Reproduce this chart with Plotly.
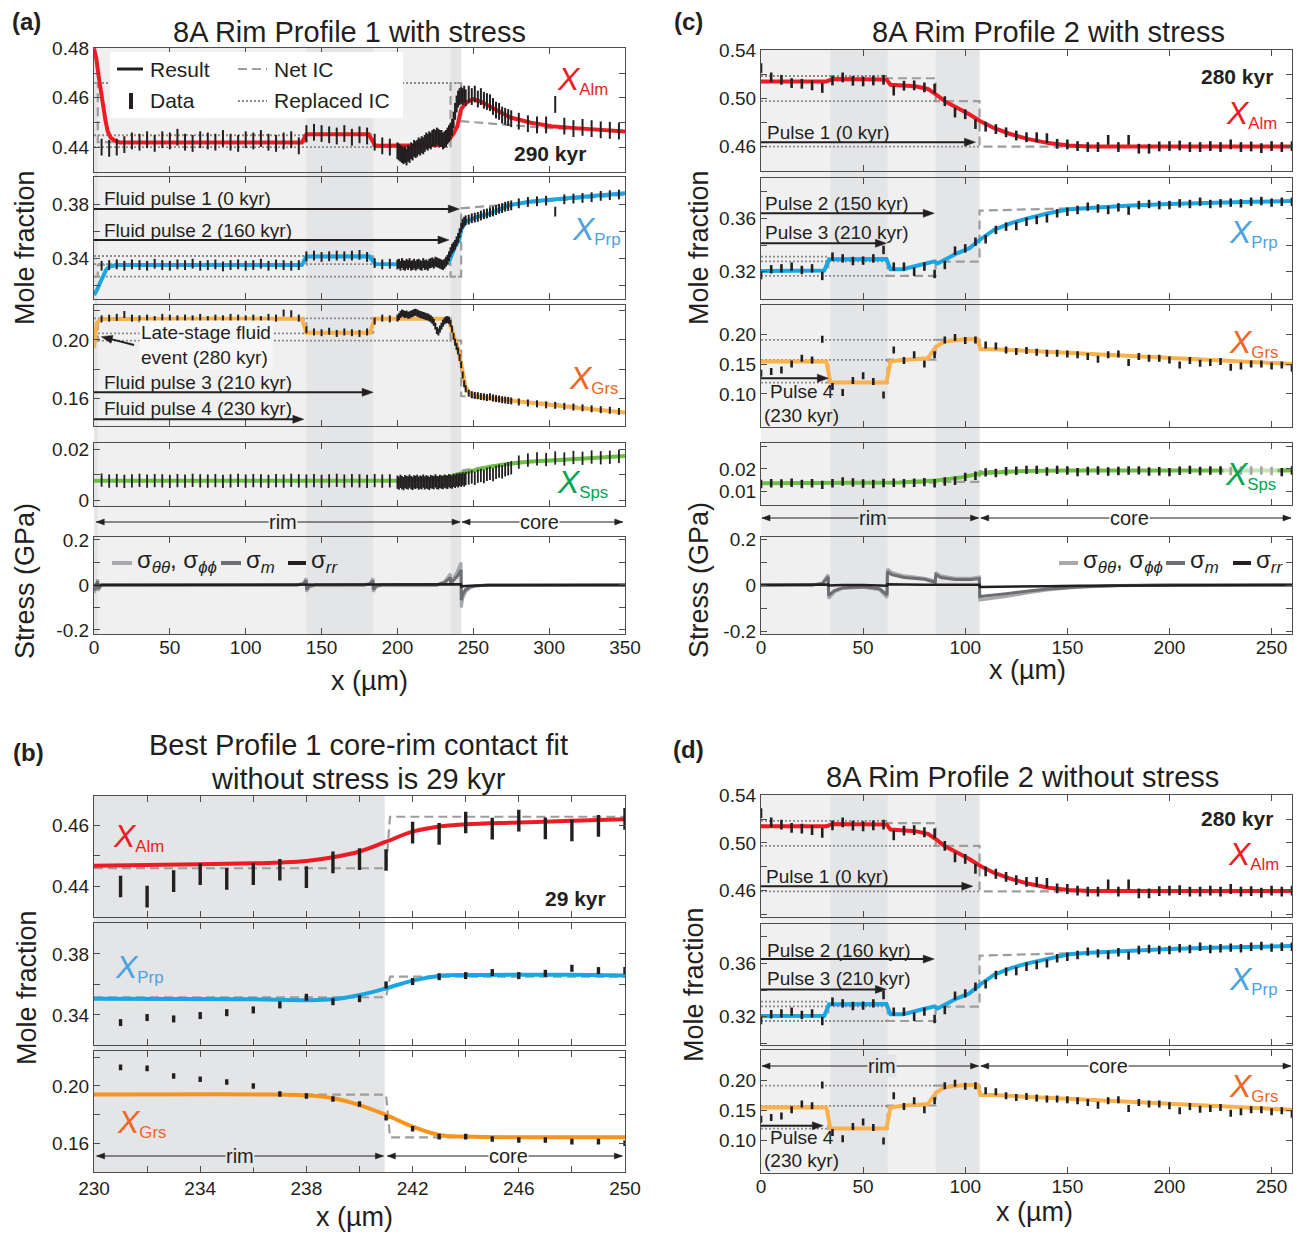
import math
import plotly.graph_objects as go

W, H = 1301, 1234
OFF = 8  # page body margin in the browser
FONT = 'Liberation Sans, Arial, Helvetica, sans-serif'
INK = '#231f20'
RED = '#ed1c24'
BLUE = '#1ba6e3'
BLUE_T = '#4ca3dd'
ORANGE = '#f9b24e'
ORANGE_B = '#f7941d'
ORANGE_T = '#f26522'
GREEN = '#6dbe45'
GREEN_T = '#00a651'
NET = '#9d9d9d'
REP = '#8c8c8c'
LIGHT = '#f0f0f0'
DARK = '#e4e5e7'
S_TT = '#a7a9ac'
S_M = '#6d6e71'
S_RR = '#231f20'

# ======================= Panel (a): 8A Rim Profile 1 with stress =======================
a_x_sparse = list(range(5, 200, 5))
a_x_dense = list(range(200, 246))
a_x_mid = list(range(247, 276, 2))
a_x_core = list(range(280, 350, 6))
a_data_x = a_x_sparse + a_x_dense + a_x_mid + a_x_core

a_alm_data = ([0.4400, 0.4395, 0.4400, 0.4410, 0.4425, 0.4420, 0.4430, 0.4415, 0.4430, 0.4425,
               0.4440, 0.4420, 0.4415, 0.4430, 0.4425, 0.4420, 0.4435, 0.4420, 0.4415, 0.4430,
               0.4425, 0.4435, 0.4420, 0.4415, 0.4425, 0.4430, 0.4405, 0.4455, 0.4460, 0.4455,
               0.4450, 0.4445, 0.4455, 0.4440, 0.4450, 0.4445, 0.4420, 0.4405, 0.4400]
              + [0.4385, 0.4380, 0.4375, 0.4370, 0.4365, 0.4370, 0.4360, 0.4375, 0.4370, 0.4385,
                 0.4380, 0.4395, 0.4390, 0.4395, 0.4405, 0.4400, 0.4410, 0.4405, 0.4415, 0.4425,
                 0.4420, 0.4430, 0.4425, 0.4435, 0.4440, 0.4435, 0.4445, 0.4440, 0.4435, 0.4435,
                 0.4425, 0.4430, 0.4435, 0.4445, 0.4455, 0.4465, 0.4480, 0.4510, 0.4545, 0.4575,
                 0.4595, 0.4605, 0.4610, 0.4605, 0.4615, 0.4600]
              + [0.4615, 0.4605, 0.4615, 0.4595, 0.4605, 0.4590, 0.4585, 0.4580, 0.4565, 0.4550,
                 0.4545, 0.4530, 0.4525, 0.4520, 0.4515]
              + [0.4505, 0.4495, 0.4490, 0.4490, 0.4573, 0.4485, 0.4475, 0.4480, 0.4475, 0.4470,
                 0.4468, 0.4465])
a_prp_data = ([0.3345, 0.3350, 0.3355, 0.3345, 0.3355, 0.3350, 0.3345, 0.3360, 0.3350, 0.3345,
               0.3355, 0.3350, 0.3360, 0.3345, 0.3350, 0.3355, 0.3340, 0.3350, 0.3355, 0.3345,
               0.3350, 0.3360, 0.3345, 0.3355, 0.3350, 0.3345, 0.3350, 0.3415, 0.3420, 0.3410,
               0.3415, 0.3420, 0.3415, 0.3420, 0.3425, 0.3410, 0.3365, 0.3355, 0.3360]
              + [0.3355, 0.3360, 0.3345, 0.3365, 0.3350, 0.3345, 0.3360, 0.3350, 0.3365, 0.3345,
                 0.3350, 0.3360, 0.3345, 0.3355, 0.3360, 0.3350, 0.3345, 0.3365, 0.3350, 0.3355,
                 0.3345, 0.3360, 0.3365, 0.3370, 0.3360, 0.3375, 0.3370, 0.3365, 0.3360, 0.3355,
                 0.3350, 0.3360, 0.3375, 0.3390, 0.3415, 0.3445, 0.3470, 0.3485, 0.3500, 0.3525,
                 0.3550, 0.3585, 0.3625, 0.3655, 0.3670, 0.3680]
              + [0.3685, 0.3695, 0.3700, 0.3705, 0.3715, 0.3725, 0.3730, 0.3740, 0.3745, 0.3755,
                 0.3765, 0.3770, 0.3780, 0.3785, 0.3790]
              + [0.3805, 0.3815, 0.3820, 0.3825, 0.3744, 0.3835, 0.3840, 0.3845, 0.3850, 0.3860,
                 0.3865, 0.3870])
a_grs_data = ([0.2145, 0.2150, 0.2155, 0.2175, 0.2150, 0.2145, 0.2150, 0.2140, 0.2155, 0.2150,
               0.2145, 0.2150, 0.2145, 0.2155, 0.2140, 0.2150, 0.2145, 0.2155, 0.2150, 0.2145,
               0.2150, 0.2140, 0.2155, 0.2150, 0.2185, 0.2180, 0.2150, 0.2070, 0.2055, 0.2050,
               0.2060, 0.2045, 0.2055, 0.2050, 0.2045, 0.2055, 0.2130, 0.2150, 0.2145]
              + [0.2150, 0.2160, 0.2175, 0.2185, 0.2180, 0.2175, 0.2178, 0.2170, 0.2172, 0.2178,
                 0.2182, 0.2188, 0.2190, 0.2185, 0.2180, 0.2175, 0.2172, 0.2168, 0.2165, 0.2160,
                 0.2158, 0.2152, 0.2145, 0.2135, 0.2120, 0.2095, 0.2065, 0.2055, 0.2075, 0.2095,
                 0.2115, 0.2130, 0.2138, 0.2140, 0.2135, 0.2115, 0.2075, 0.2025, 0.1985, 0.1955,
                 0.1925, 0.1880, 0.1830, 0.1760, 0.1700, 0.1665]
              + [0.1635, 0.1625, 0.1620, 0.1618, 0.1612, 0.1610, 0.1605, 0.1610, 0.1602, 0.1598,
                 0.1595, 0.1590, 0.1588, 0.1585, 0.1582]
              + [0.1575, 0.1568, 0.1562, 0.1555, 0.1552, 0.1545, 0.1540, 0.1535, 0.1528, 0.1522,
                 0.1518, 0.1510])
a_sps_data = ([0.0080, 0.0076, 0.0078, 0.0075, 0.0077, 0.0079, 0.0076, 0.0078, 0.0077, 0.0075,
               0.0078, 0.0076, 0.0079, 0.0077, 0.0076, 0.0078, 0.0075, 0.0077, 0.0079, 0.0076,
               0.0078, 0.0077, 0.0075, 0.0078, 0.0076, 0.0079, 0.0077, 0.0076, 0.0078, 0.0075,
               0.0077, 0.0079, 0.0076, 0.0078, 0.0077, 0.0075, 0.0078, 0.0076, 0.0077]
              + [0.0072, 0.0068, 0.0075, 0.0070, 0.0066, 0.0074, 0.0071, 0.0069, 0.0076, 0.0070,
                 0.0067, 0.0073, 0.0071, 0.0075, 0.0068, 0.0072, 0.0070, 0.0076, 0.0069, 0.0073,
                 0.0071, 0.0067, 0.0074, 0.0072, 0.0070, 0.0077, 0.0071, 0.0069, 0.0075, 0.0072,
                 0.0070, 0.0076, 0.0073, 0.0071, 0.0078, 0.0074, 0.0072, 0.0079, 0.0075, 0.0081,
                 0.0077, 0.0083, 0.0079, 0.0085, 0.0080, 0.0086]
              + [0.0088, 0.0092, 0.0087, 0.0095, 0.0098, 0.0094, 0.0102, 0.0106, 0.0101, 0.0110,
                 0.0115, 0.0112, 0.0120, 0.0124, 0.0128]
              + [0.0150, 0.0158, 0.0163, 0.0160, 0.0166, 0.0162, 0.0168, 0.0165, 0.0170, 0.0167,
                 0.0169, 0.0172])

a_alm_cx = [0, 1.5, 3, 4.5, 6, 7.5, 9, 11, 14, 17, 137, 140, 181, 185.5, 230, 234, 237, 239.5, 242,
            244.5, 247.5, 250, 255, 261, 274.5, 288, 301.5, 315, 328, 350]
a_alm_cy = [0.480, 0.476, 0.469, 0.462, 0.456, 0.451, 0.4465, 0.4438, 0.4425, 0.4419, 0.4419, 0.4452,
            0.4452, 0.4405, 0.4408, 0.4430, 0.4455, 0.4485, 0.4553, 0.4575, 0.4588, 0.4595, 0.4585,
            0.4564, 0.4520, 0.4499, 0.4485, 0.4478, 0.4473, 0.4463]
a_prp_cx = [0, 2, 4, 6.2, 8, 10, 15.6, 137, 140, 181.4, 185.5, 230, 234, 236, 238, 240.7, 242,
            244.8, 253, 261, 274.5, 288, 301.4, 315, 328, 350]
a_prp_cy = [0.3130, 0.3167, 0.3220, 0.3265, 0.3315, 0.3339, 0.3350, 0.3350, 0.3413, 0.3415, 0.3358,
            0.3355, 0.3375, 0.3430, 0.3486, 0.3535, 0.3609, 0.3670, 0.3707, 0.3731, 0.3793, 0.3818,
            0.3834, 0.3847, 0.3859, 0.3879]
a_grs_cx = [0, 1.6, 5, 137, 140, 182, 185, 230, 234, 236.7, 239.4, 242, 244.8, 247.5, 253, 261,
            274.5, 288, 315, 350]
a_grs_cy = [0.1943, 0.2114, 0.2144, 0.2146, 0.2050, 0.2050, 0.2146, 0.2146, 0.2133, 0.2046, 0.1954,
            0.1840, 0.1680, 0.1634, 0.1611, 0.1600, 0.1584, 0.1566, 0.1538, 0.1502]
a_sps_cx = [0, 200, 220, 234, 242, 261, 275, 288, 315, 350]
a_sps_cy = [0.0077, 0.0077, 0.0081, 0.0093, 0.0106, 0.0132, 0.0145, 0.0152, 0.0161, 0.0174]

# net initial condition (step at pulse boundaries, then core profile)
a_net_x = [0, 2.5, 2.5, 140, 140, 184, 184, 235, 235, 242, 242, 275, 300, 350]
a_alm_net = [0.466, 0.466, 0.442, 0.442, 0.4452, 0.4452, 0.4405, 0.4405, 0.466, 0.466, 0.4505,
             0.4488, 0.4477, 0.4464]
a_prp_net = [0.3265, 0.3265, 0.3352, 0.3352, 0.3415, 0.3415, 0.3357, 0.3357, 0.3265, 0.3265, 0.3768,
             0.3800, 0.3822, 0.3868]
a_grs_net = [0.1995, 0.1995, 0.2146, 0.2146, 0.2050, 0.2050, 0.2146, 0.2146, 0.1995, 0.1995, 0.1615,
             0.1584, 0.1566, 0.1502]
a_sps_net = [0.0077, 0.0077, 0.0077, 0.0077, 0.0077, 0.0077, 0.0077, 0.0077, 0.0077, 0.0077, 0.0117,
             0.0146, 0.0153, 0.0174]
# replaced initial conditions (x start, x end, level)
a_alm_rep = [(0, 242, 0.466), (0, 140, 0.4448), (0, 235, 0.4400)]
a_prp_rep = [(0, 140, 0.3417), (0, 242, 0.3265), (0, 184, 0.3357)]
a_grs_rep = [(0, 140, 0.2045), (0, 242, 0.1995), (0, 184, 0.2148)]

a_s_x = [0, 1.2, 2.4, 2.6, 5, 134, 138, 139.9, 140.1, 142, 146, 178, 182, 183.9, 184.1, 186, 190,
         226, 231, 234.9, 235.1, 237, 239.5, 241.9, 242.1, 243, 245, 248, 252, 260, 350]
a_s_tt = [-0.035, -0.02, 0.025, -0.025, 0, 0, 0.008, 0.03, -0.03, -0.008, 0, 0, 0.008, 0.03, -0.03,
          -0.008, 0, 0, 0.015, 0.05, 0.01, 0.03, 0.06, 0.1, -0.1, -0.06, -0.03, -0.012, -0.004, 0, 0]
a_s_m = [-0.023, -0.013, 0.017, -0.017, 0, 0, 0.005, 0.02, -0.02, -0.005, 0, 0, 0.005, 0.02, -0.02,
         -0.005, 0, 0, 0.01, 0.033, 0.007, 0.02, 0.04, 0.067, -0.067, -0.04, -0.02, -0.008, -0.003, 0, 0]
a_s_rr = [0, 0, 0, 0, 0, 0, 0, 0, 0, 0, 0, 0, 0, 0, 0, 0, 0, 0, 0, 0, 0, 0, 0, 0.003, -0.006, -0.005,
          -0.004, -0.003, -0.002, -0.001, 0]
a_light = [(0, 242)]
a_dark = [(0, 2.5), (140, 184), (235, 242)]

# ======================= Panel (c)/(d): 8A Rim Profile 2 =======================
c_data_x = list(range(0, 261, 5))
c_alm_data = [0.5250, 0.5173, 0.5153, 0.5126, 0.5120, 0.5107, 0.5085, 0.5148, 0.5173, 0.5145, 0.5140,
              0.5148, 0.5153, 0.5063, 0.5104, 0.5107, 0.5090, 0.5080, 0.4975, 0.4880, 0.4866, 0.4784,
              0.4762, 0.4742, 0.4715, 0.4688, 0.4674, 0.4674, 0.4666, 0.4619, 0.4614, 0.4600, 0.4592,
              0.4592, 0.4652, 0.4592, 0.4652, 0.4578, 0.4578, 0.4597, 0.4600, 0.4605, 0.4592, 0.4592,
              0.4600, 0.4592, 0.4614, 0.4592, 0.4597, 0.4583, 0.4600, 0.4592, 0.4600]
c_prp_data = [0.3175, 0.3218, 0.3225, 0.3238, 0.3213, 0.3225, 0.3168, 0.3313, 0.3300, 0.3280, 0.3283,
              0.3300, 0.3363, 0.3238, 0.3238, 0.3200, 0.3238, 0.3183, 0.3250, 0.3358, 0.3375, 0.3425,
              0.3443, 0.3513, 0.3538, 0.3543, 0.3575, 0.3588, 0.3600, 0.3638, 0.3650, 0.3663, 0.3688,
              0.3675, 0.3663, 0.3683, 0.3658, 0.3700, 0.3708, 0.3700, 0.3700, 0.3713, 0.3708, 0.3725,
              0.3708, 0.3713, 0.3718, 0.3713, 0.3725, 0.3730, 0.3718, 0.3725, 0.3725]
c_grs_data = [0.1346, 0.1374, 0.1402, 0.1503, 0.1598, 0.1570, 0.1916, 0.1123, 0.1022, 0.1223, 0.1302,
              0.1207, 0.0983, 0.1737, 0.1559, 0.1654, 0.1503, 0.1654, 0.1905, 0.1944, 0.1894, 0.1905,
              0.1821, 0.1804, 0.1737, 0.1709, 0.1726, 0.1698, 0.1682, 0.1682, 0.1670, 0.1654, 0.1626,
              0.1581, 0.1654, 0.1670, 0.1525, 0.1626, 0.1598, 0.1598, 0.1570, 0.1486, 0.1559, 0.1514,
              0.1525, 0.1542, 0.1447, 0.1469, 0.1503, 0.1503, 0.1469, 0.1486, 0.1430]
c_sps_data = [0.0134, 0.0137, 0.0136, 0.0139, 0.0134, 0.0137, 0.0130, 0.0137, 0.0145, 0.0140, 0.0136,
              0.0134, 0.0138, 0.0139, 0.0137, 0.0139, 0.0142, 0.0137, 0.0145, 0.0148, 0.0165, 0.0170,
              0.0185, 0.0182, 0.0190, 0.0192, 0.0196, 0.0196, 0.0189, 0.0196, 0.0193, 0.0186, 0.0191,
              0.0193, 0.0189, 0.0191, 0.0193, 0.0194, 0.0189, 0.0190, 0.0186, 0.0192, 0.0196, 0.0191,
              0.0193, 0.0193, 0.0191, 0.0193, 0.0193, 0.0193, 0.0191, 0.0186, 0.0193]

c_alm_cx = [0, 32, 34, 35, 61.4, 63.4, 75.6, 81.7, 85.8, 89.9, 96, 102, 107, 114, 122, 130.5, 140.7,
            150.8, 161, 260]
c_alm_cy = [0.5140, 0.5140, 0.5152, 0.5159, 0.5155, 0.5112, 0.5099, 0.5077, 0.5030, 0.4975, 0.4920,
            0.4866, 0.4811, 0.4751, 0.4701, 0.4660, 0.4625, 0.4605, 0.4597, 0.4597]
c_prp_cx = [0, 31, 33.3, 61.4, 63.4, 69.5, 77.7, 85, 86.5, 88, 96, 102, 107, 114, 122, 130.5, 140.7,
            150.8, 161, 179, 199.6, 220, 240.3, 260]
c_prp_cy = [0.3205, 0.3208, 0.3293, 0.3295, 0.3218, 0.3218, 0.3250, 0.3278, 0.3262, 0.3275, 0.3338,
            0.3375, 0.3438, 0.3513, 0.3563, 0.3600, 0.3638, 0.3668, 0.3680, 0.3695, 0.3708, 0.3718,
            0.3725, 0.3730]
c_grs_cx = [0, 32, 34, 61.4, 63.4, 69.5, 81.7, 85.8, 89.9, 100, 106, 107.5, 114, 128.5, 148.8, 169,
            189.5, 209.8, 230, 260]
c_grs_cy = [0.1542, 0.1542, 0.1190, 0.1190, 0.1542, 0.1570, 0.1598, 0.1793, 0.1877, 0.1916, 0.1916,
            0.1749, 0.1749, 0.1726, 0.1693, 0.1659, 0.1626, 0.1587, 0.1553, 0.1503]
c_sps_cx = [0, 67.5, 85.8, 98, 108, 118, 128.5, 148.8, 260]
c_sps_cy = [0.0137, 0.0140, 0.0149, 0.0163, 0.0181, 0.0188, 0.0191, 0.0193, 0.0193]

c_net_x = [0, 33, 33, 62, 62, 85.5, 85.5, 107, 107, 150, 200, 260]
c_alm_net = [0.5140, 0.5140, 0.5159, 0.5159, 0.5166, 0.5166, 0.4975, 0.4975, 0.4595, 0.4595, 0.4595,
             0.4595]
c_prp_net = [0.3205, 0.3205, 0.3295, 0.3295, 0.3168, 0.3168, 0.3275, 0.3275, 0.3658, 0.3675, 0.3705,
             0.3730]
c_grs_net = [0.1542, 0.1542, 0.1190, 0.1190, 0.1575, 0.1575, 0.1905, 0.1905, 0.1749, 0.1693, 0.1610,
             0.1503]
c_sps_net = [0.0137, 0.0137, 0.0137, 0.0137, 0.0140, 0.0140, 0.0143, 0.0143, 0.0191, 0.0193, 0.0193,
             0.0193]
c_alm_rep = [(0, 62, 0.5185), (0, 85.5, 0.4975), (0, 107, 0.4595)]
c_prp_rep = [(0, 33, 0.3313), (0, 62, 0.3278), (0, 62, 0.3168)]
c_grs_rep = [(0, 85.5, 0.1905), (0, 62, 0.1570), (0, 33, 0.1190)]

c_s_x = [0, 25, 30, 32.9, 33.1, 36, 40, 50, 58, 61.7, 61.9, 64, 70, 80, 85.3, 85.7, 88, 95, 103,
         106.9, 107.1, 112, 120, 130, 140, 155, 175, 200, 260]
c_s_tt = [0, 0, 0.008, 0.045, -0.058, -0.03, -0.015, -0.01, -0.02, -0.055, 0.07, 0.055, 0.04, 0.03,
          0.018, 0.055, 0.04, 0.03, 0.03, 0.035, -0.065, -0.06, -0.05, -0.035, -0.022, -0.01, -0.003,
          0, 0]
c_s_m = [0, 0, 0.006, 0.035, -0.045, -0.024, -0.012, -0.008, -0.016, -0.043, 0.058, 0.045, 0.033,
         0.025, 0.012, 0.045, 0.033, 0.024, 0.024, 0.028, -0.05, -0.046, -0.038, -0.027, -0.017,
         -0.008, -0.002, 0, 0]
c_s_rr = [0, 0, 0, 0.002, -0.002, 0, 0, 0, 0, -0.003, 0.003, 0.002, 0.002, 0.001, 0, 0.002, 0.001,
          0.001, 0.001, 0.001, -0.008, -0.008, -0.007, -0.006, -0.005, -0.003, -0.002, -0.001, 0]
c_light = [(0, 107)]
c_dark = [(34, 62), (85.5, 107)]

# ======================= Panel (b): core-rim contact, no stress =======================
b_data_x = list(range(231, 251))
b_alm_data = [0.4399, 0.4366, 0.4417, 0.4440, 0.4424, 0.4440, 0.4454, 0.4430, 0.4478, 0.4489,
              0.4486, 0.4576, 0.4572, 0.4609, 0.4589, 0.4615, 0.4590, 0.4583, 0.4598, 0.4621]
b_prp_data = [0.3350, 0.3383, 0.3374, 0.3396, 0.3415, 0.3433, 0.3466, 0.3516, 0.3487, 0.3507,
              0.3597, 0.3619, 0.3651, 0.3658, 0.3678, 0.3658, 0.3673, 0.3706, 0.3691, 0.3691]
b_grs_data = [0.2130, 0.2123, 0.2070, 0.2047, 0.2028, 0.2000, 0.1944, 0.1930, 0.1909, 0.1874,
              0.1779, 0.1702, 0.1647, 0.1647, 0.1630, 0.1623, 0.1623, 0.1612, 0.1612, 0.1600]
b_alm_cx = [230, 234, 236, 237, 238, 239, 240, 241, 242, 243, 244, 246, 248, 250]
b_alm_cy = [0.4467, 0.4472, 0.4475, 0.4478, 0.4483, 0.4495, 0.4514, 0.4546, 0.4579, 0.4596, 0.4603,
            0.4609, 0.4615, 0.4620]
b_prp_cx = [230, 236, 238, 239, 240, 241, 242, 243, 244, 246, 248, 250]
b_prp_cy = [0.3507, 0.3503, 0.3497, 0.3503, 0.3531, 0.3575, 0.3625, 0.3656, 0.3662, 0.3664, 0.3663,
            0.3658]
b_grs_cx = [230, 237, 238, 239, 240, 241, 242, 243, 244, 246, 250]
b_grs_cy = [0.1940, 0.1940, 0.1935, 0.1914, 0.1867, 0.1798, 0.1716, 0.1658, 0.1647, 0.1642, 0.1642]
b_net_x = [230, 241, 241.15, 250]
b_alm_net = [0.4459, 0.4459, 0.4628, 0.4628]
b_prp_net = [0.3516, 0.3516, 0.3651, 0.3651]
b_grs_net = [0.1940, 0.1940, 0.1642, 0.1642]
b_dark = [(230, 240.95)]

# ======================= ticks: (labelled values, labels, unlabelled minor values) =======================
a_xt = ([0, 50, 100, 150, 200, 250, 300, 350], ['0', '50', '100', '150', '200', '250', '300', '350'], [])
c_xt = ([0, 50, 100, 150, 200, 250], ['0', '50', '100', '150', '200', '250'], [])
b_xt = ([230, 234, 238, 242, 246, 250], ['230', '234', '238', '242', '246', '250'], [232, 236, 240, 244, 248])
alm_a_ticks = ([0.44, 0.46, 0.48], ['0.44', '0.46', '0.48'], [0.45, 0.47])
prp_a_ticks = ([0.34, 0.38], ['0.34', '0.38'], [0.32, 0.36])
grs_a_ticks = ([0.16, 0.20], ['0.16', '0.20'], [0.18, 0.22])
sps_a_ticks = ([0, 0.02], ['0', '0.02'], [0.01])
stress_ticks = ([-0.2, 0, 0.2], ['-0.2', '0', '0.2'], [-0.1, 0.1])
alm_c_ticks = ([0.46, 0.50, 0.54], ['0.46', '0.50', '0.54'], [0.44, 0.48, 0.52])
prp_c_ticks = ([0.32, 0.36], ['0.32', '0.36'], [0.30, 0.34, 0.38])
grs_c_ticks = ([0.10, 0.15, 0.20], ['0.10', '0.15', '0.20'], [])
sps_c_ticks = ([0.01, 0.02], ['0.01', '0.02'], [0.03])
alm_b_ticks = ([0.44, 0.46], ['0.44', '0.46'], [0.45])
prp_b_ticks = ([0.34, 0.38], ['0.34', '0.38'], [0.36])
grs_b_ticks = ([0.16, 0.20], ['0.16', '0.20'], [0.18, 0.22])

# ======================= figure construction =======================
fig = go.Figure()
axes_layout = {}
shapes = []
anns = []
GEO = {}


def px(x):
    return (x - OFF) / W


def py(y):
    return 1 - (y - OFF) / H


def ids(n):
    return ('x' if n == 1 else 'x%d' % n), ('y' if n == 1 else 'y%d' % n)


TICKC = '#4d4d4d'
AXSTYLE = dict(showline=True, linecolor=TICKC, linewidth=1.2, mirror='ticks', ticks='inside',
               ticklen=6, tickwidth=1, tickcolor=TICKC, showgrid=False, zeroline=False,
               fixedrange=True, automargin=False, tickfont=dict(size=19, color=INK, family=FONT))


def tick_dict(spec):
    d = dict(tickmode='array', tickvals=spec[0], ticktext=spec[1])
    if spec[2]:
        d['minor'] = dict(tickmode='array', tickvals=spec[2], ticks='inside', ticklen=6, tickwidth=1,
                          tickcolor=TICKC, showgrid=False)
    return d


def make_axes(n, xl, xr, yt, yb, xrng, yrng, xspec, yspec, showx, standoff=-4):
    xid, yid = ids(n)
    GEO[n] = (xl, xr, yt, yb, xrng, yrng)
    xa = dict(AXSTYLE, domain=[px(xl), px(xr)], range=xrng, anchor=yid, showticklabels=showx,
              ticklabelstandoff=standoff, **tick_dict(xspec))
    ya = dict(AXSTYLE, domain=[py(yb), py(yt)], range=yrng, anchor=xid, **tick_dict(yspec))
    axes_layout['xaxis' if n == 1 else 'xaxis%d' % n] = xa
    axes_layout['yaxis' if n == 1 else 'yaxis%d' % n] = ya


def to_px(n, x, y):
    xl, xr, yt, yb, xrng, yrng = GEO[n]
    return (xl + (x - xrng[0]) / (xrng[1] - xrng[0]) * (xr - xl),
            yb - (y - yrng[0]) / (yrng[1] - yrng[0]) * (yb - yt))


def from_px(n, X, Y):
    xl, xr, yt, yb, xrng, yrng = GEO[n]
    return (xrng[0] + (X - xl) / (xr - xl) * (xrng[1] - xrng[0]),
            yrng[0] + (yb - Y) / (yb - yt) * (yrng[1] - yrng[0]))


def tr(n, x, y, **kw):
    xid, yid = ids(n)
    fig.add_trace(go.Scatter(x=x, y=y, xaxis=xid, yaxis=yid, hoverinfo='skip', **kw))


def curve(n, x, y, color, width=4, smooth=False):
    tr(n, x, y, mode='lines', line=dict(color=color, width=width, shape='spline' if smooth else 'linear'))


def net(n, x, y):
    tr(n, x, y, mode='lines', line=dict(color=NET, width=2.2, dash='9px,5px'))


def replaced(n, segs):
    xs, ys = [], []
    for x0, x1, v in segs:
        xs += [x0, x1, None]
        ys += [v, v, None]
    tr(n, xs, ys, mode='lines', line=dict(color=REP, width=1.8, dash='2px,2px'))


def data(n, x, y, size, width=2.2):
    m = min(len(x), len(y))
    tr(n, x[:m], y[:m], mode='markers',
       marker=dict(symbol='line-ns', size=size, color=INK, line=dict(color=INK, width=width)))


def band(n, x0, x1, color, yt, yb):
    xid, _ = ids(n)
    shapes.append(dict(type='rect', xref=xid, yref='paper', x0=x0, x1=x1, y0=py(yb), y1=py(yt),
                       fillcolor=color, line=dict(width=0), layer='below'))


def txt(n, x, y, s, size=19, color=INK, xanchor='left', bg=None, align='left'):
    xid, yid = ids(n)
    d = dict(xref=xid, yref=yid, x=x, y=y, text=s, showarrow=False, xanchor=xanchor, yanchor='middle',
             align=align, font=dict(size=size, color=color, family=FONT))
    if bg:
        d['bgcolor'] = bg
    anns.append(d)


def ptxt(x, y, s, size, color=INK, xanchor='center', angle=0):
    anns.append(dict(xref='paper', yref='paper', x=px(x), y=py(y), text=s, showarrow=False,
                     xanchor=xanchor, yanchor='middle', textangle=angle,
                     font=dict(size=size, color=color, family=FONT)))


def head_path(pts):
    return 'M%.6f,%.6f L%.6f,%.6f L%.6f,%.6f Z' % (pts[0] + pts[1] + pts[2])


def arrow(n, x0, y0, x1, y1, width=2, L=11, hw=4):
    """Arrow from tail (x0, y0) to head (x1, y1) in the data coordinates of subplot n."""
    xid, yid = ids(n)
    X0, Y0 = to_px(n, x0, y0)
    X1, Y1 = to_px(n, x1, y1)
    d = math.hypot(X1 - X0, Y1 - Y0)
    ux, uy = (X1 - X0) / d, (Y1 - Y0) / d
    BX, BY = X1 - L * ux, Y1 - L * uy
    bx, by = from_px(n, BX + ux, BY + uy)
    shapes.append(dict(type='line', xref=xid, yref=yid, x0=x0, y0=y0, x1=bx, y1=by,
                       line=dict(color=INK, width=width), layer='above'))
    pts = (from_px(n, X1, Y1), from_px(n, BX - hw * uy, BY + hw * ux), from_px(n, BX + hw * uy, BY - hw * ux))
    shapes.append(dict(type='path', xref=xid, yref=yid, path=head_path(pts), fillcolor=INK,
                       line=dict(color=INK, width=0.5), layer='above'))


def span_arrow(n, x0, x1, ypix, L=8, hw=3):
    """Thin double-headed arrow along x (data of subplot n) at page height ypix."""
    xid, _ = ids(n)
    X0, _ = to_px(n, x0, 0)
    X1, _ = to_px(n, x1, 0)
    shapes.append(dict(type='line', xref=xid, yref='paper', x0=x0, x1=x1, y0=py(ypix), y1=py(ypix),
                       line=dict(color=INK, width=1), layer='above'))
    for tipX, sgn in ((X0, -1), (X1, 1)):
        baseX = tipX - sgn * L
        tip = (from_px(n, tipX, 0)[0], py(ypix))
        p1 = (from_px(n, baseX, 0)[0], py(ypix - hw))
        p2 = (from_px(n, baseX, 0)[0], py(ypix + hw))
        shapes.append(dict(type='path', xref=xid, yref='paper', path=head_path((tip, p1, p2)),
                           fillcolor=INK, line=dict(color=INK, width=0.5), layer='above'))


def comp_label(n, x, y, name, color, bg=None):
    txt(n, x, y, '<span style="font-size:32px"><i>X</i></span><sub>%s</sub>' % name, size=24,
        color=color, xanchor='center', bg=bg)


def rim_core(n, ypix, rim_span, rim_mid, rim_bg, core_span, core_mid):
    xid, _ = ids(n)
    span_arrow(n, rim_span[0], rim_span[1], ypix)
    span_arrow(n, core_span[0], core_span[1], ypix)
    for s, xm, bg in (('rim', rim_mid, rim_bg), ('core', core_mid, 'white')):
        anns.append(dict(xref=xid, yref='paper', x=xm, y=py(ypix), text=s, showarrow=False,
                         xanchor='center', yanchor='middle', bgcolor=bg, borderpad=0,
                         font=dict(size=20, color=INK, family=FONT)))


def pline(x0, y0, x1, y1, color, width, dash=None):
    shapes.append(dict(type='line', xref='paper', yref='paper', x0=px(x0), y0=py(y0), x1=px(x1),
                       y1=py(y1), line=dict(color=color, width=width, dash=dash), layer='above'))


SIG_TT = 'σ<sub><i>θθ</i></sub>, σ<sub><i>ϕϕ</i></sub>'
SIG_M = 'σ<sub><i>m</i></sub>'
SIG_RR = 'σ<sub><i>rr</i></sub>'

# ---------------- Panel (a) ----------------
A_X = (94, 625)
A_ROWS = [(48, 172, [0.4299, 0.4802], alm_a_ticks), (177, 299, [0.310, 0.3999], prp_a_ticks),
          (305, 426, [0.141, 0.224], grs_a_ticks), (443, 506, [-0.0021, 0.02245], sps_a_ticks),
          (537, 634, [-0.2178, 0.2133], stress_ticks)]
for i, (yt, yb, yr, tk) in enumerate(A_ROWS):
    make_axes(1 + i, A_X[0], A_X[1], yt, yb, [0, 350], yr, a_xt, tk, i == 4)
for x0, x1 in a_light:
    band(1, x0, x1, LIGHT, 48, 634)
for x0, x1 in a_dark:
    band(1, x0, x1, DARK, 48, 634)

replaced(1, a_alm_rep); net(1, a_net_x, a_alm_net); curve(1, a_alm_cx, a_alm_cy, RED)
data(1, a_data_x, a_alm_data, 12, 2)
replaced(2, a_prp_rep); net(2, a_net_x, a_prp_net); curve(2, a_prp_cx, a_prp_cy, BLUE)
data(2, a_data_x, a_prp_data, 7, 2)
replaced(3, a_grs_rep); net(3, a_net_x, a_grs_net); curve(3, a_grs_cx, a_grs_cy, ORANGE)
data(3, a_data_x, a_grs_data, 5, 2)
net(4, a_net_x, a_sps_net); curve(4, a_sps_cx, a_sps_cy, GREEN)
data(4, a_data_x, a_sps_data, 9.5, 1.8)
curve(5, a_s_x, a_s_tt, S_TT, 3); curve(5, a_s_x, a_s_m, S_M, 3); curve(5, a_s_x, a_s_rr, S_RR, 2.5)

comp_label(1, 321.7, 0.4671, 'Alm', RED)
comp_label(2, 331, 0.3608, 'Prp', BLUE_T)
comp_label(3, 329, 0.1735, 'Grs', ORANGE_T)
comp_label(4, 322, 0.0069, 'Sps', GREEN_T)
txt(1, 300.6, 0.4376, '<b>290 kyr</b>', size=21, xanchor='center')
txt(2, 5.4, 0.3842, 'Fluid pulse 1 (0 kyr)')
arrow(2, 0, 0.3763, 240.8, 0.3763)
txt(2, 5.4, 0.3608, 'Fluid pulse 2 (160 kyr)')
arrow(2, 0, 0.3535, 234, 0.3535)
txt(3, 29.5, 0.1968, 'Late-stage fluid<br>event (280 kyr)', bg='#f7f7f7')
arrow(3, 26.4, 0.1966, 4.85, 0.2023)
txt(3, 5.4, 0.1707, 'Fluid pulse 3 (210 kyr)')
arrow(3, 0, 0.1641, 184, 0.1641)
txt(3, 5.4, 0.1531, 'Fluid pulse 4 (230 kyr)')
arrow(3, 0, 0.1456, 138.3, 0.1456)
rim_core(5, 522, (1.5, 241.3), 124.8, LIGHT, (242.6, 348.5), 293.4)

# legend of panel (a)
shapes.append(dict(type='rect', xref='paper', yref='paper', x0=px(110), x1=px(403), y0=py(118),
                   y1=py(52), fillcolor='white', line=dict(width=0), layer='above'))
pline(117, 69, 143, 69, INK, 3)
pline(238, 69, 267, 69, NET, 2.2, '9px,5px')
pline(131, 93, 131, 109, INK, 4)
pline(238, 101, 267, 101, REP, 1.8, '2px,2px')
ptxt(148, 69, 'Result', 21, xanchor='left')
ptxt(272, 69, 'Net IC', 21, xanchor='left')
ptxt(148, 101, 'Data', 21, xanchor='left')
ptxt(272, 101, 'Replaced IC', 21, xanchor='left')
# stress legend (a)
pline(112, 563, 132, 563, S_TT, 4)
pline(221, 563, 241, 563, S_M, 4)
pline(288, 563, 306, 563, S_RR, 4)
ptxt(135, 561, SIG_TT, 24, xanchor='left')
ptxt(244, 561, SIG_M, 24, xanchor='left')
ptxt(309, 561, SIG_RR, 24, xanchor='left')

ptxt(26, 21, '<b>(a)</b>', 24)
ptxt(349, 32, '8A Rim Profile 1 with stress', 29)
ptxt(25, 248, 'Mole fraction', 27, angle=-90)
ptxt(25, 581, 'Stress (GPa)', 27, angle=-90)
ptxt(369, 681, 'x (µm)', 27)

# ---------------- Panel (c) ----------------
C_X = (761, 1292)
C_ROWS = [(50, 171, [0.4392, 0.5402], alm_c_ticks), (178, 299, [0.2995, 0.3903], prp_c_ticks),
          (305, 426.7, [0.045, 0.249], grs_c_ticks), (442.7, 505, [0.0041, 0.0316], sps_c_ticks),
          (537, 634, [-0.213, 0.209], stress_ticks)]
for i, (yt, yb, yr, tk) in enumerate(C_ROWS):
    make_axes(6 + i, C_X[0], C_X[1], yt, yb, [0, 260], yr, c_xt, tk, i == 4)
for x0, x1 in c_light:
    band(6, x0, x1, LIGHT, 50, 634)
for x0, x1 in c_dark:
    band(6, x0, x1, DARK, 50, 634)

replaced(6, c_alm_rep); net(6, c_net_x, c_alm_net); curve(6, c_alm_cx, c_alm_cy, RED)
data(6, c_data_x, c_alm_data, 7, 2.6)
replaced(7, c_prp_rep); net(7, c_net_x, c_prp_net); curve(7, c_prp_cx, c_prp_cy, BLUE)
data(7, c_data_x, c_prp_data, 6, 2.6)
replaced(8, c_grs_rep); net(8, c_net_x, c_grs_net); curve(8, c_grs_cx, c_grs_cy, ORANGE)
data(8, c_data_x, c_grs_data, 5, 2.6)
net(9, c_net_x, c_sps_net); curve(9, c_sps_cx, c_sps_cy, GREEN)
data(9, c_data_x, c_sps_data, 6, 2.6)
curve(10, c_s_x, c_s_tt, S_TT, 3); curve(10, c_s_x, c_s_m, S_M, 3); curve(10, c_s_x, c_s_rr, S_RR, 2.5)

comp_label(6, 240, 0.4869, 'Alm', RED)
comp_label(7, 241, 0.349, 'Prp', BLUE_T)
comp_label(8, 241, 0.185, 'Grs', ORANGE_T)
comp_label(9, 239.5, 0.0174, 'Sps', GREEN_T, bg='rgba(255,255,255,0.6)')
txt(6, 233, 0.518, '<b>280 kyr</b>', size=21, xanchor='center')
txt(6, 2, 0.4715, 'Pulse 1 (0 kyr)')
arrow(6, 0, 0.4633, 105, 0.4633)
txt(7, 1, 0.3713, 'Pulse 2 (150 kyr)')
arrow(7, 0, 0.3638, 84.8, 0.3638)
txt(7, 1, 0.3496, 'Pulse 3 (210 kyr)')
arrow(7, 0, 0.3413, 61.4, 0.3413)
txt(8, 3.5, 0.1039, 'Pulse 4')
txt(8, 0.4, 0.0631, '(230 kyr)')
arrow(8, 0, 0.1263, 33, 0.1263)
rim_core(10, 518, (0.5, 106.5), 54.7, DARK, (107.6, 259.5), 180.3)

pline(1059, 563, 1078, 563, S_TT, 4)
pline(1166, 563, 1185, 563, S_M, 4)
pline(1233, 563, 1251, 563, S_RR, 4)
ptxt(1081, 561, SIG_TT, 24, xanchor='left')
ptxt(1188, 561, SIG_M, 24, xanchor='left')
ptxt(1254, 561, SIG_RR, 24, xanchor='left')

ptxt(688, 21, '<b>(c)</b>', 24)
ptxt(1048, 32, '8A Rim Profile 2 with stress', 29)
ptxt(699, 248, 'Mole fraction', 27, angle=-90)
ptxt(699, 580, 'Stress (GPa)', 27, angle=-90)
ptxt(1027, 670, 'x (µm)', 27)

# ---------------- Panel (b) ----------------
B_X = (94, 625)
B_ROWS = [(795.7, 917, [0.4299, 0.4697], alm_b_ticks), (923, 1045, [0.3203, 0.4003], prp_b_ticks),
          (1050.7, 1172, [0.140, 0.2246], grs_b_ticks)]
for i, (yt, yb, yr, tk) in enumerate(B_ROWS):
    make_axes(11 + i, B_X[0], B_X[1], yt, yb, [230, 250], yr, b_xt, tk, i == 2, standoff=-1)
for x0, x1 in b_dark:
    band(11, x0, x1, DARK, 795.7, 1172)

net(11, b_net_x, b_alm_net); curve(11, b_alm_cx, b_alm_cy, RED, 4, True)
data(11, b_data_x, b_alm_data, 15.5, 3.4)
net(12, b_net_x, b_prp_net); curve(12, b_prp_cx, b_prp_cy, BLUE, 4, True)
data(12, b_data_x, b_prp_data, 5, 3.4)
net(13, b_net_x, b_grs_net); curve(13, b_grs_cx, b_grs_cy, ORANGE_B, 4, True)
data(13, b_data_x, b_grs_data, 4, 3.4)

comp_label(11, 231.66, 0.4563, 'Alm', RED)
comp_label(12, 231.7, 0.3706, 'Prp', BLUE_T)
comp_label(13, 231.8, 0.174, 'Grs', ORANGE_T)
txt(11, 248.15, 0.4361, '<b>29 kyr</b>', size=21, xanchor='center')
rim_core(13, 1156, (230.1, 240.9), 235.5, DARK, (241.05, 249.9), 245.6)

ptxt(28, 753, '<b>(b)</b>', 24)
ptxt(358.5, 745, 'Best Profile 1 core-rim contact fit', 29)
ptxt(358.5, 779, 'without stress is 29 kyr', 29)
ptxt(27, 988, 'Mole fraction', 27, angle=-90)
ptxt(354, 1217, 'x (µm)', 27)

# ---------------- Panel (d) ----------------
D_X = (761, 1292)
D_ROWS = [(795, 916.7, [0.4382, 0.5402], alm_c_ticks), (924.3, 1045, [0.2988, 0.3893], prp_c_ticks),
          (1050, 1172.7, [0.0455, 0.25], grs_c_ticks)]
for i, (yt, yb, yr, tk) in enumerate(D_ROWS):
    make_axes(14 + i, D_X[0], D_X[1], yt, yb, [0, 260], yr, c_xt, tk, i == 2)
for x0, x1 in c_light:
    band(14, x0, x1, LIGHT, 795, 1172.7)
for x0, x1 in c_dark:
    band(14, x0, x1, DARK, 795, 1172.7)

replaced(14, c_alm_rep); net(14, c_net_x, c_alm_net); curve(14, c_alm_cx, c_alm_cy, RED)
data(14, c_data_x, c_alm_data, 7, 2.6)
replaced(15, c_prp_rep); net(15, c_net_x, c_prp_net); curve(15, c_prp_cx, c_prp_cy, BLUE)
data(15, c_data_x, c_prp_data, 6, 2.6)
replaced(16, c_grs_rep); net(16, c_net_x, c_grs_net); curve(16, c_grs_cx, c_grs_cy, ORANGE)
data(16, c_data_x, c_grs_data, 5, 2.6)

comp_label(14, 241, 0.4896, 'Alm', RED)
comp_label(15, 241, 0.3475, 'Prp', BLUE_T)
comp_label(16, 241, 0.1888, 'Grs', ORANGE_T)
txt(14, 233, 0.5202, '<b>280 kyr</b>', size=21, xanchor='center')
txt(14, 1.4, 0.4721, 'Pulse 1 (0 kyr)')
arrow(14, 0, 0.4637, 103.7, 0.4637)
txt(15, 2, 0.3700, 'Pulse 2 (160 kyr)')
arrow(15, 0, 0.3632, 84.8, 0.3632)
txt(15, 2, 0.3487, 'Pulse 3 (210 kyr)')
arrow(15, 0, 0.3405, 61.4, 0.3405)
txt(16, 3.5, 0.1045, 'Pulse 4')
txt(16, 0.4, 0.0655, '(230 kyr)')
arrow(16, 0, 0.1238, 30.5, 0.1238)
rim_core(16, 1066, (0.5, 106.5), 59, DARK, (107.6, 259.5), 170.2)

ptxt(688, 749, '<b>(d)</b>', 24)
ptxt(1022, 777, '8A Rim Profile 2 without stress', 29)
ptxt(694, 984, 'Mole fraction', 27, angle=-90)
ptxt(1034, 1212, 'x (µm)', 27)

fig.update_layout(width=W, height=H, margin=dict(l=0, r=0, t=0, b=0, pad=0, autoexpand=False),
                  paper_bgcolor='white', plot_bgcolor='rgba(0,0,0,0)', showlegend=False,
                  font=dict(family=FONT, color=INK), shapes=shapes, annotations=anns, **axes_layout)
fig.write_html('out.html')
